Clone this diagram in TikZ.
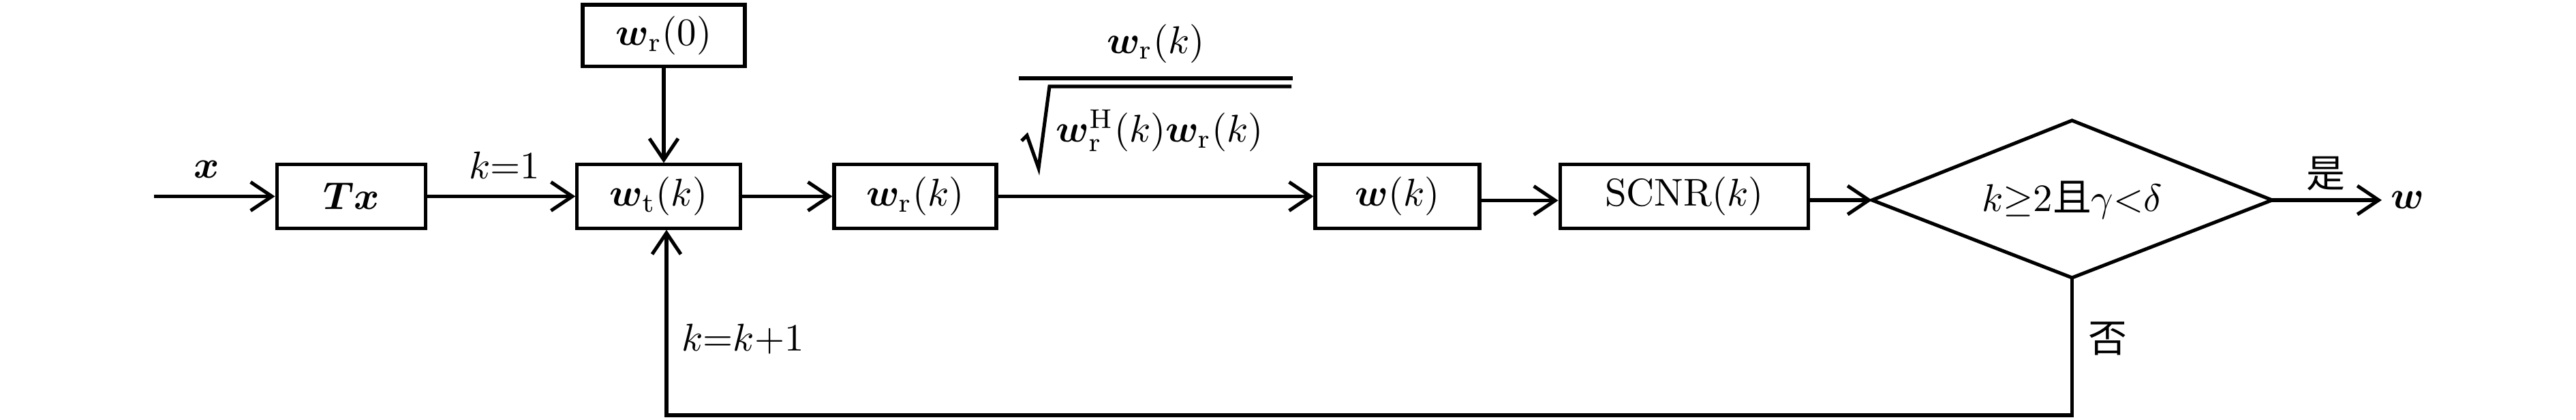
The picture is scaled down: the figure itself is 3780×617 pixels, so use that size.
\documentclass[tikz,border=0pt]{standalone}
\usepackage{fontspec}
\usepackage{amsmath,bm}
\newfontfamily\cjk{Noto Sans CJK SC}
\usetikzlibrary{arrows.meta,calc}
\begin{document}
\begin{tikzpicture}[x=0.176pt,y=-0.176pt,
  ln/.style={line width=0.9pt},
  box/.style={draw,ln,minimum height=16.4pt,inner sep=0pt},
  arr/.style={ln,-{Straight Barb[length=5.5pt,width=7.4pt,line width=0.9pt]}},
  lbl/.style={inner sep=0pt}]
\useasboundingbox (0,0) rectangle (3780,617);
% boxes
\node[box,minimum width=38.5pt] (tx) at (515.5,288.5) {$\bm{Tx}$};
\node[box,minimum width=42.1pt] (wt) at (966.5,288.5) {$\bm{w}_{\mathrm{t}}(k)$};
\node[box,minimum width=41.9pt,minimum height=16pt] (wr0) at (974,52.5) {$\bm{w}_{\mathrm{r}}(0)$};
\node[box,minimum width=41.9pt] (wr) at (1343,288.5) {$\bm{w}_{\mathrm{r}}(k)$};
\node[box,minimum width=42.4pt] (wk) at (2050.5,288.5) {$\bm{w}(k)$};
\node[box,minimum width=64.2pt] (scnr) at (2471.5,288.5) {$\mathrm{SCNR}(k)$};
% diamond
\coordinate (dl) at (2747,294);
\coordinate (dt) at (3040.5,177);
\coordinate (dr) at (3334,294);
\coordinate (db) at (3040.5,408);
\draw[ln,line join=miter] (dl) -- (dt) -- (dr) -- (db) -- cycle;
\node[lbl] (cond) at (3040.5,294) {$k{\geq}2${\cjk 且}$\gamma{<}\delta$};
% labels
\node[lbl] (xl) at (303,249) {$\bm{x}$};
\node[lbl] (k1) at (740,243) {$k{=}1$};
\node[lbl] (kk) at (1090,498) {$k{=}k{+}1$};
\node[lbl] (yes) at (3413,255) {\cjk 是};
\node[lbl] (no) at (3093,498) {\cjk 否};
\node[lbl] (wl) at (3533,294) {$\bm{w}$};
% fraction
\node[lbl] (num) at (1696,64) {$\bm{w}_{\mathrm{r}}(k)$};
\node[lbl] (den) at (1702,192) {$\bm{w}_{\mathrm{r}}^{\mathrm{H}}(k)\bm{w}_{\mathrm{r}}(k)$};
\coordinate (b1) at (1495,115);
\coordinate (b2) at (1897,115);
\draw[ln] (b1) -- (b2);
\coordinate (s1) at (1499,207);
\coordinate (s2) at (1507,199);
\coordinate (s3) at (1524,247);
\coordinate (s4) at (1540,127);
\coordinate (s5) at (1895,127);
\draw[ln,line join=miter] (s1) -- (s2) -- (s3) -- (s4) -- (s5);
% connectors
\coordinate (in) at (226,288.5);
\draw[arr] (in) -- (tx.west);
\draw[arr] (tx) -- (wt);
\draw[arr] (wr0) -- (wr0.south |- wt.north);
\draw[arr] (wt) -- (wr);
\draw[arr] (wr) -- (wk);
\draw[arr] ($(wk.east)+(0,6)$) -- ($(scnr.west)+(0,6)$);
\draw[arr] (scnr.east |- dl) -- (dl);
\coordinate (out) at (3495,294);
\draw[arr] (dr) -- (out);
\coordinate (fb) at (978,610);
\draw[arr] (db) |- (fb) -- (fb |- wt.south);
\end{tikzpicture}
\end{document}
